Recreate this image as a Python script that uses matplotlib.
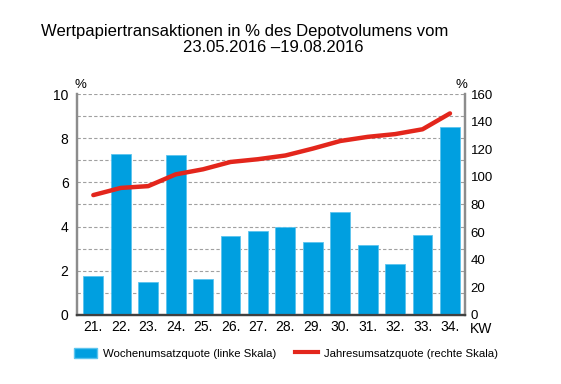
import matplotlib
matplotlib.use("Agg")
import matplotlib.pyplot as plt
from matplotlib.patches import Patch
from matplotlib.lines import Line2D
import numpy as np

plt.rcParams['font.family'] = ['Liberation Sans', 'DejaVu Sans']

# Data
weeks = ["21.", "22.", "23.", "24.", "25.", "26.", "27.", "28.", "29.", "30.", "31.", "32.", "33.", "34."]
wochen_quote = [1.77, 7.3, 1.5, 7.25, 1.64, 3.56, 3.8, 3.98, 3.32, 4.67, 3.18, 2.32, 3.62, 8.53]
jahres_quote = [86.8, 92, 93.3, 101.8, 105.5, 110.8, 112.8, 115.5, 120.5, 126, 129, 131, 134.5, 146]

BLUE = '#009fe0'
RED = '#e3261c'
GRAY = '#8c8c8c'

fig = plt.figure(figsize=(5.61, 3.84), dpi=100)
ax = fig.add_axes([0.137, 0.180, 0.692, 0.575])
ax2 = ax.twinx()

x = np.arange(len(weeks))
ax.bar(x, wochen_quote, width=0.72, color=BLUE, edgecolor='#5cc4ee', linewidth=0.6, zorder=3)
ax2.plot(x, jahres_quote, color=RED, linewidth=3.2, solid_capstyle='round', zorder=4)

ax.set_xlim(-0.6, 13.55)
ax.set_ylim(0, 10)
ax2.set_ylim(0, 160)
ax.set_yticks([0, 2, 4, 6, 8, 10])
ax2.set_yticks(np.arange(0, 161, 20))

# dashed grid every 1 unit (left scale)
for g in range(1, 11):
    ax.axhline(g, color='#a0a0a0', linestyle=(0, (3, 2)), linewidth=0.8, zorder=1)

ax.set_xticks(x)
ax.set_xticklabels(weeks)
ax.tick_params(axis='x', length=0, labelsize=10, pad=4)
ax.tick_params(axis='y', length=0, labelsize=10, pad=6)
ax2.tick_params(axis='y', length=0, labelsize=9.5, pad=4)

for a in (ax, ax2):
    a.spines['top'].set_visible(False)
    a.spines['left'].set_color(GRAY)
    a.spines['left'].set_linewidth(1.6)
    a.spines['right'].set_color(GRAY)
    a.spines['right'].set_linewidth(1.6)
    a.spines['bottom'].set_color('#404040')
    a.spines['bottom'].set_linewidth(1.6)

ax.set_zorder(ax2.get_zorder() - 1)
ax2.patch.set_visible(False)

# axis unit labels
ax.text(0.01, 1.012, "%", transform=ax.transAxes, fontsize=9.5, ha='center', va='bottom')
ax.text(0.99, 1.012, "%", transform=ax.transAxes, fontsize=9.5, ha='center', va='bottom')
ax.text(1.012, -0.03, "KW", transform=ax.transAxes, fontsize=10, ha='left', va='top')

# title
fig.text(0.437, 0.907, "Wertpapiertransaktionen in % des Depotvolumens vom", fontsize=12, ha='center', va='baseline')
fig.text(0.487, 0.864, "23.05.2016 \u201319.08.2016", fontsize=12, ha='center', va='baseline')

# legend
handles = [Patch(facecolor=BLUE, edgecolor='#5cc4ee'),
           Line2D([0], [0], color=RED, linewidth=3)]
labels = ["Wochenumsatzquote (linke Skala)", "Jahresumsatzquote (rechte Skala)"]
fig.legend(handles, labels, loc='center', bbox_to_anchor=(0.51, 0.08), ncol=2, frameon=False,
           fontsize=8.2, handlelength=2.0, handleheight=1.0, columnspacing=1.6, handletextpad=0.6)

fig.savefig("out.png", dpi=100)
